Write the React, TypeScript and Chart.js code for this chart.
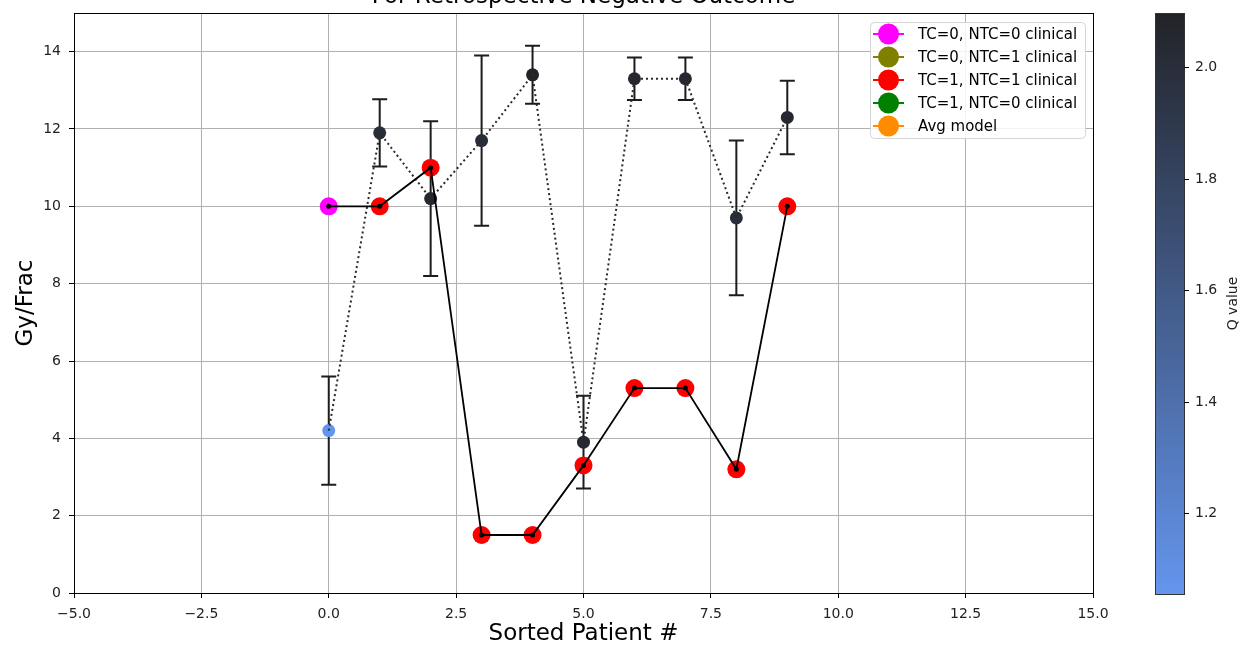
import React, { useEffect, useRef } from "react";
import { Chart, registerables } from "chart.js";
Chart.register(...registerables);

const patients = [0, 1, 2, 3, 4, 5, 6, 7, 8, 9];
const modelDose = [4.2, 11.9, 10.2, 11.7, 13.4, 3.9, 13.3, 13.3, 9.7, 12.3];
const modelErr = [1.4, 0.87, 2.0, 2.2, 0.75, 1.2, 0.55, 0.55, 2.0, 0.95];
const modelQ = [1.055, 2.0, 2.05, 2.0, 2.097, 2.05, 2.05, 2.05, 2.0, 2.05];
const clinicalDose = [10, 10, 11, 1.5, 1.5, 3.3, 5.3, 5.3, 3.2, 10];
const clinicalCat = [0, 2, 2, 2, 2, 2, 2, 2, 2, 2];
const legendLabels = [
  "TC=0, NTC=0 clinical",
  "TC=0, NTC=1 clinical",
  "TC=1, NTC=1 clinical",
  "TC=1, NTC=0 clinical",
  "Avg model",
];
const legendColors = ["#ff00ff", "#808000", "#ff0000", "#008000", "#ff8c00"];
const xTicks = [-5, -2.5, 0, 2.5, 5, 7.5, 10, 12.5, 15];
const yTicks = [0, 2, 4, 6, 8, 10, 12, 14];
const qTicks = [1.2, 1.4, 1.6, 1.8, 2.0];
const titleText = "For Retrospective Negative Outcome";
const xLabel = "Sorted Patient #";
const yLabel = "Gy/Frac";
const qLabel = "Q value";

const FONT = "'DejaVu Sans', sans-serif";
const cLow = [100, 149, 237];
const cHigh = [34, 35, 39];
const qMin = Math.min(...modelQ);
const qMax = Math.max(...modelQ);

function qColor(q: number) {
  const t = Math.max(0, Math.min(1, (q - qMin) / (qMax - qMin)));
  const c = cLow.map((v, i) => Math.round(v + (cHigh[i] - v) * t));
  return `rgb(${c[0]},${c[1]},${c[2]})`;
}

const minus = (s: string) => s.replace("-", "\u2212");

const extras = {
  id: "extras",
  beforeDatasetsDraw(chart: any) {
    const { ctx, scales } = chart;
    const x = scales.x;
    const y = scales.y;
    ctx.save();
    ctx.strokeStyle = "#1c1c1c";
    ctx.lineWidth = 2;
    patients.forEach((p, i) => {
      const px = x.getPixelForValue(p);
      const top = y.getPixelForValue(modelDose[i] + modelErr[i]);
      const bot = y.getPixelForValue(modelDose[i] - modelErr[i]);
      ctx.beginPath();
      ctx.moveTo(px, top);
      ctx.lineTo(px, bot);
      ctx.moveTo(px - 7.5, top);
      ctx.lineTo(px + 7.5, top);
      ctx.moveTo(px - 7.5, bot);
      ctx.lineTo(px + 7.5, bot);
      ctx.stroke();
    });
    ctx.restore();
  },
  afterDraw(chart: any) {
    const { ctx, chartArea: a } = chart;
    ctx.save();
    // frame
    ctx.strokeStyle = "#000";
    ctx.lineWidth = 1;
    ctx.strokeRect(Math.round(a.left) + 0.5, Math.round(a.top) + 0.5, Math.round(a.right - a.left), Math.round(a.bottom - a.top));
    // title
    ctx.fillStyle = "#000";
    ctx.font = `23px ${FONT}`;
    ctx.textAlign = "center";
    ctx.textBaseline = "alphabetic";
    ctx.fillText(titleText, (a.left + a.right) / 2, 3);

    // legend
    const lx = 870, ly = 22, lw = 215, lh = 116;
    ctx.beginPath();
    (ctx as any).roundRect(lx + 0.5, ly + 0.5, lw, lh, 4);
    ctx.fillStyle = "rgba(255,255,255,0.85)";
    ctx.fill();
    ctx.strokeStyle = "#d5d5d5";
    ctx.stroke();
    legendLabels.forEach((lab, i) => {
      const cy = 34 + i * 23;
      ctx.strokeStyle = legendColors[i];
      ctx.lineWidth = 2;
      ctx.beginPath();
      ctx.moveTo(873, cy);
      ctx.lineTo(904, cy);
      ctx.stroke();
      ctx.fillStyle = legendColors[i];
      ctx.beginPath();
      ctx.arc(888.5, cy, 10.5, 0, Math.PI * 2);
      ctx.fill();
      ctx.fillStyle = "#000";
      ctx.font = `15px ${FONT}`;
      ctx.textAlign = "left";
      ctx.textBaseline = "middle";
      ctx.fillText(lab, 918, cy + 1);
    });

    // colorbar
    const cbL = 1155, cbR = 1184, cbT = 13, cbB = 594;
    const g = ctx.createLinearGradient(0, cbB, 0, cbT);
    g.addColorStop(0, qColor(qMin));
    g.addColorStop(1, qColor(qMax));
    ctx.fillStyle = g;
    ctx.fillRect(cbL, cbT, cbR - cbL, cbB - cbT);
    ctx.strokeStyle = "#333";
    ctx.lineWidth = 1;
    ctx.strokeRect(cbL + 0.5, cbT + 0.5, cbR - cbL, cbB - cbT);
    ctx.font = `14px ${FONT}`;
    ctx.textAlign = "left";
    ctx.textBaseline = "middle";
    ctx.fillStyle = "#222";
    qTicks.forEach((q) => {
      const py = Math.round(cbB - ((q - qMin) / (qMax - qMin)) * (cbB - cbT)) + 0.5;
      ctx.strokeStyle = "#000";
      ctx.beginPath();
      ctx.moveTo(cbR, py);
      ctx.lineTo(cbR + 5, py);
      ctx.stroke();
      ctx.fillText(q.toFixed(1), cbR + 11, py);
    });
    ctx.translate(1233, (cbT + cbB) / 2);
    ctx.rotate(-Math.PI / 2);
    ctx.textAlign = "center";
    ctx.fillText(qLabel, 0, 0);
    ctx.restore();
  },
};

export default function App() {
  const ref = useRef<HTMLCanvasElement | null>(null);
  useEffect(() => {
    if (!ref.current) return;
    const tickFont = { family: FONT, size: 14 };
    const chart = new Chart(ref.current, {
      type: "scatter",
      data: {
        datasets: [
          {
            label: "clinical line",
            data: patients.map((p, i) => ({ x: p, y: clinicalDose[i] })),
            showLine: true,
            borderColor: "#000",
            borderWidth: 1.8,
            pointRadius: 2.5,
            pointBackgroundColor: "#000",
            pointBorderWidth: 0,
            order: 0,
          },
          {
            label: "clinical",
            data: patients.map((p, i) => ({ x: p, y: clinicalDose[i] })),
            pointRadius: 9,
            pointBackgroundColor: clinicalCat.map((c) => legendColors[c]),
            pointBorderWidth: 0,
            order: 1,
          },
          {
            label: "model line",
            data: patients.map((p, i) => ({ x: p, y: modelDose[i] })),
            showLine: true,
            borderColor: "#2a2a2a",
            borderWidth: 2,
            borderDash: [2, 3],
            pointRadius: 0,
            order: 2,
          },
          {
            label: "model",
            data: patients.map((p, i) => ({ x: p, y: modelDose[i] })),
            pointRadius: 6.5,
            pointBackgroundColor: modelQ.map(qColor),
            pointBorderWidth: 0,
            order: 3,
          },
        ],
      },
      options: {
        animation: false,
        responsive: false,
        devicePixelRatio: 1,
        layout: { padding: { top: 13, right: 148, left: 0, bottom: 0 } },
        plugins: { legend: { display: false }, tooltip: { enabled: false } },
        scales: {
          x: {
            type: "linear",
            min: -5,
            max: 15,
            afterBuildTicks: (s: any) => {
              s.ticks = xTicks.map((v) => ({ value: v }));
            },
            afterFit: (s: any) => {
              s.height = 52;
              s.paddingLeft = 0;
              s.paddingRight = 0;
            },
            ticks: {
              font: tickFont,
              color: "#222",
              padding: 8,
              maxRotation: 0,
              autoSkip: false,
              callback: (v: any) => minus(Number(v).toFixed(1)),
            },
            grid: { color: "#b0b0b0", lineWidth: 1, tickColor: "#000", tickLength: 5 },
            border: { display: false },
            title: { display: true, text: xLabel, font: { family: FONT, size: 23 }, color: "#000", padding: { top: 0, bottom: -3 } },
          },
          y: {
            type: "linear",
            min: 0,
            max: 15,
            afterBuildTicks: (s: any) => {
              s.ticks = yTicks.map((v) => ({ value: v }));
            },
            afterFit: (s: any) => {
              s.width = 74;
              s.paddingTop = 0;
              s.paddingBottom = 0;
            },
            ticks: {
              font: tickFont,
              color: "#222",
              padding: 8,
              autoSkip: false,
              callback: (v: any) => String(v),
            },
            grid: { color: "#b0b0b0", lineWidth: 1, tickColor: "#000", tickLength: 5 },
            border: { display: false },
            title: { display: true, text: yLabel, font: { family: FONT, size: 23 }, color: "#000", padding: { top: 12, bottom: 0 } },
          },
        },
      },
      plugins: [extras],
    } as any);
    return () => chart.destroy();
  }, []);
  return (
    <div style={{ position: "absolute", left: 0, top: 0, width: 1241, height: 645, background: "#fff" }}>
      <canvas ref={ref} width={1241} height={645} style={{ display: "block" }} />
    </div>
  );
}
